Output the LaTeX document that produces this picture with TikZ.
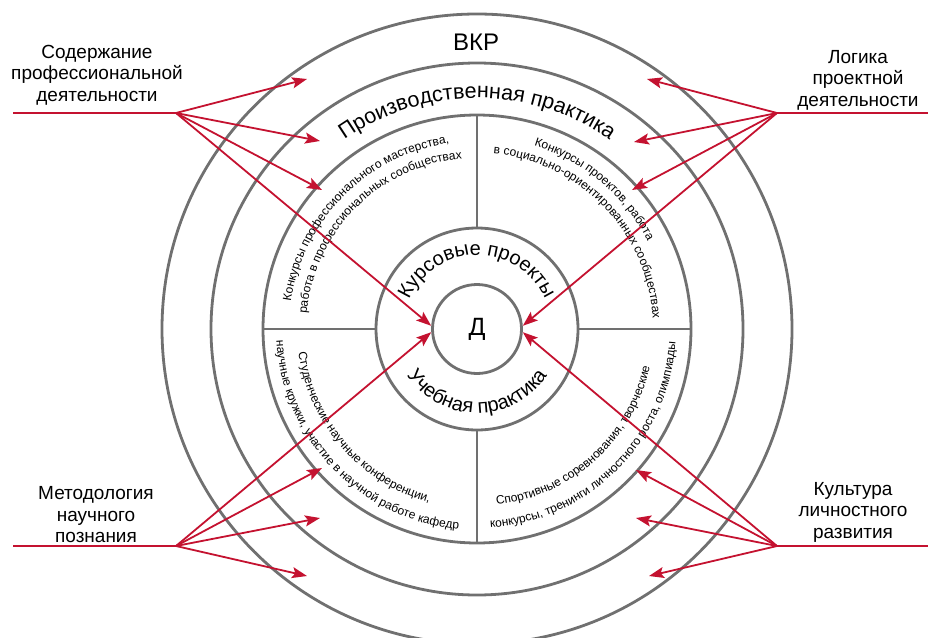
\documentclass[tikz,border=0pt]{standalone}
\usepackage{fontspec}
\setmainfont{Liberation Sans}
\usetikzlibrary{decorations.text, arrows.meta}
\definecolor{ringgray}{RGB}{112,112,112}
\definecolor{arrred}{RGB}{196,18,48}
\newcommand{\sectfont}{\fontsize{12pt}{14pt}\selectfont}
\newcommand{\ringfont}{\fontsize{21.5pt}{24pt}\selectfont}
\newcommand{\corefont}{\fontsize{20pt}{22pt}\selectfont}
\begin{document}
\begin{tikzpicture}[x=1pt,y=1pt,
  ring/.style={draw=ringgray, line width=2.8pt},
  arr/.style={draw=arrred, line width=1.8pt, -{Stealth[length=15pt,width=11pt,inset=3pt]}},
  feed/.style={draw=arrred, line width=1.8pt},
  lab/.style={align=center, font=\fontsize{19pt}{21.5pt}\selectfont, inner sep=0pt},
  arctext/.style={decorate, decoration={text along path, text align=center, text={#1}}}
]
\useasboundingbox (0,0) rectangle (928,-637);
\clip (0,0) rectangle (928,-637);
\coordinate (O) at (477,-329);
% rings
\draw[ring] (O) circle[radius=315pt];
\draw[ring] (O) circle[radius=266pt];
\draw[ring] (O) circle[radius=214pt];
\draw[ring] (O) circle[radius=101pt];
\node[circle, ring, minimum size=89pt, inner sep=0pt, font=\fontsize{25pt}{27pt}\selectfont] (D) at (O) {Д};
% dividers
\draw[ring] (263,-329) -- (376,-329);
\draw[ring] (578,-329) -- (691,-329);
\draw[ring] (477,-115) -- (477,-228);
\draw[ring] (477,-430) -- (477,-543);
% ring titles
\node[font=\fontsize{24pt}{26pt}\selectfont, inner sep=0pt] (vkr) at (476,-42) {ВКР};
\path[arctext={|\ringfont|Производственная практика}] ([shift={(170:231pt)}]O) arc[start angle=170, end angle=10, radius=231pt];
\path[arctext={|\corefont|Курсовые проекты}] ([shift={(180:74pt)}]O) arc[start angle=180, end angle=0, radius=74pt];
\path[arctext={|\corefont|Учебная практика}] ([shift={(190:84pt)}]O) arc[start angle=190, end angle=350, radius=84pt];
% sector texts
\path[arctext={|\sectfont|Конкурсы профессионального мастерства,}] ([shift={(180:188pt)}]O) arc[start angle=180, end angle=90, radius=188pt];
\path[arctext={|\sectfont|работа в профессиональных сообществах}] ([shift={(180:171pt)}]O) arc[start angle=180, end angle=90, radius=171pt];
\path[arctext={|\sectfont|Конкурсы проектов, работа}] ([shift={(90:192pt)}]O) arc[start angle=90, end angle=10, radius=192pt];
\path[arctext={|\sectfont|в социально-ориентированных сообществах}] ([shift={(88:176pt)}]O) arc[start angle=88, end angle=0, radius=176pt];
\path[arctext={|\sectfont|Студенческие научные конференции,}] ([shift={(181:180pt)}]O) arc[start angle=181, end angle=261, radius=180pt];
\path[arctext={|\sectfont|научные кружки, участие в научной работе кафедр}] ([shift={(180:201pt)}]O) arc[start angle=180, end angle=268, radius=201pt];
\path[arctext={|\sectfont|Спортивные соревнования, творческие}] ([shift={(270:177pt)}]O) arc[start angle=270, end angle=354, radius=177pt];
\path[arctext={|\sectfont|конкурсы, тренинги личностного роста, олимпиады}] ([shift={(270:199pt)}]O) arc[start angle=270, end angle=360, radius=199pt];
% labels
\node[lab] (l1) at (97,-75) {Содержание\\профессиональной\\деятельности};
\node[lab] (l2) at (858,-80) {Логика\\проектной\\деятельности};
\node[lab] (l3) at (96,-515) {Методология\\научного\\познания};
\node[lab] (l4) at (853,-512) {Культура\\личностного\\развития};
% hubs and feeds
\coordinate (s1) at (13,-113);  \coordinate (h1) at (176,-113);
\coordinate (s2) at (930,-113); \coordinate (h2) at (777,-113);
\coordinate (s3) at (13,-546);  \coordinate (h3) at (176,-546);
\coordinate (s4) at (930,-546); \coordinate (h4) at (777,-546);
\draw[feed] (s1) -- (h1);
\draw[feed] (s2) -- (h2);
\draw[feed] (s3) -- (h3);
\draw[feed] (s4) -- (h4);
% targets
\coordinate (a1) at (307,-79);  \coordinate (a2) at (320,-141); \coordinate (a3) at (322,-190);
\coordinate (b1) at (647,-79);  \coordinate (b2) at (634,-142); \coordinate (b3) at (632,-190);
\coordinate (c1) at (322,-468); \coordinate (c2) at (320,-518); \coordinate (c3) at (307,-576);
\coordinate (e1) at (636,-470); \coordinate (e2) at (636,-518); \coordinate (e3) at (649,-576);
\draw[arr] (h1) -- (a1);
\draw[arr] (h1) -- (a2);
\draw[arr] (h1) -- (a3);
\draw[arr] (h1) -- (D.176);
\draw[arr] (h2) -- (b1);
\draw[arr] (h2) -- (b2);
\draw[arr] (h2) -- (b3);
\draw[arr] (h2) -- (D.4);
\draw[arr] (h3) -- (D.184);
\draw[arr] (h3) -- (c1);
\draw[arr] (h3) -- (c2);
\draw[arr] (h3) -- (c3);
\draw[arr] (h4) -- (D.-4);
\draw[arr] (h4) -- (e1);
\draw[arr] (h4) -- (e2);
\draw[arr] (h4) -- (e3);
\end{tikzpicture}
\end{document}
